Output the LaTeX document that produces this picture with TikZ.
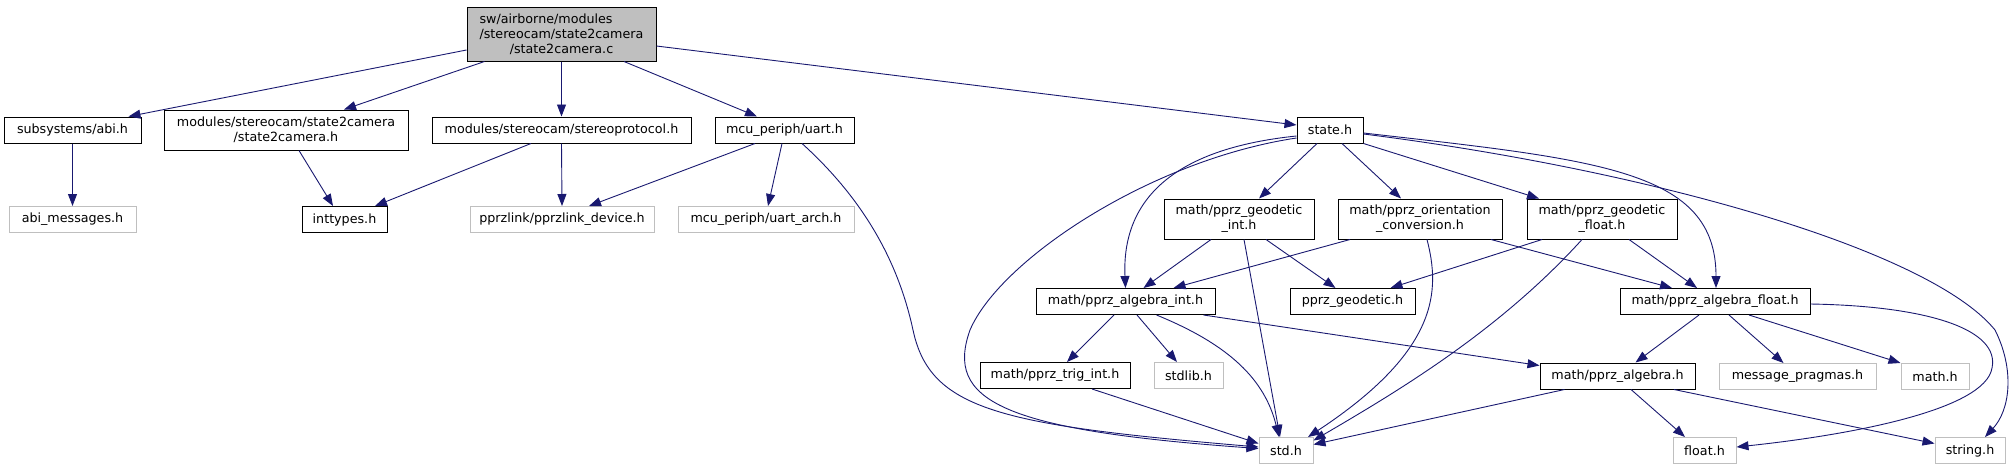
\documentclass[tikz,border=0pt]{standalone}
\usepackage{fontspec}
\newfontfamily\dvsans{DejaVu Sans}
\usetikzlibrary{arrows.meta}
\definecolor{edgeblue}{HTML}{191970}
\definecolor{grayline}{HTML}{BFBFBF}
\begin{document}
\begin{tikzpicture}[x=1pt,y=-1pt,
  box/.style={draw=black, line width=1pt, minimum height=26pt, inner sep=0pt,
    font=\dvsans\fontsize{12.7}{15}\selectfont, align=center, text=black},
  extbox/.style={box, draw=grayline},
  rootbox/.style={box, fill=grayline},
  dep/.style={draw=edgeblue, line width=0.9pt, -{Triangle[length=12pt,width=9pt]}},
]
\useasboundingbox (0,0) rectangle (2015,469);
% nodes
\node[rootbox, minimum width=189pt, minimum height=54pt] (root) at (561.5,34) {\rlap{sw/airborne/modules}\phantom{/stereocam/state2camera}\\/stereocam/state2camera\\/state2camera.c};
\node[box, minimum width=137pt] (abi) at (72.5,130) {subsystems/abi.h};
\node[box, minimum width=244pt, minimum height=40pt] (s2ch) at (286,130) {modules/stereocam/state2camera\\/state2camera.h};
\node[box, minimum width=259pt] (stereo) at (561.5,130) {modules/stereocam/stereoprotocol.h};
\node[box, minimum width=139pt] (uart) at (784.5,130) {mcu\_periph/uart.h};
\node[box, minimum width=66pt] (state) at (1330,130) {state.h};
\node[extbox, minimum width=127pt] (abimsg) at (72.5,219.5) {abi\_messages.h};
\node[box, minimum width=85pt] (inttypes) at (344.5,219.5) {inttypes.h};
\node[extbox, minimum width=184pt] (pprzlink) at (562,219.5) {pprzlink/pprzlink\_device.h};
\node[extbox, minimum width=176pt] (uartarch) at (766,219.5) {mcu\_periph/uart\_arch.h};
\node[box, minimum width=150pt, minimum height=40pt] (geoint) at (1239,219) {math/pprz\_geodetic\\\_int.h};
\node[box, minimum width=164pt, minimum height=40pt] (orient) at (1420,219) {math/pprz\_orientation\\\_conversion.h};
\node[box, minimum width=150pt, minimum height=40pt] (geofloat) at (1602,219) {math/pprz\_geodetic\\\_float.h};
\node[box, minimum width=179pt] (algint) at (1125.5,301.5) {math/pprz\_algebra\_int.h};
\node[box, minimum width=125pt] (geodetic) at (1352.5,301.5) {pprz\_geodetic.h};
\node[box, minimum width=190pt] (algfloat) at (1715,301.5) {math/pprz\_algebra\_float.h};
\node[box, minimum width=150pt] (trig) at (1055,375.5) {math/pprz\_trig\_int.h};
\node[extbox, minimum width=69pt] (stdlib) at (1188.5,375.5) {stdlib.h};
\node[box, minimum width=155pt] (algebra) at (1617.5,376) {math/pprz\_algebra.h};
\node[extbox, minimum width=157pt] (msgprag) at (1797.5,376.5) {message\_pragmas.h};
\node[extbox, minimum width=68pt] (mathh) at (1935,376.5) {math.h};
\node[extbox, minimum width=54pt] (std) at (1286,450.5) {std.h};
\node[extbox, minimum width=63pt] (floath) at (1704.5,450.5) {float.h};
\node[extbox, minimum width=70pt] (stringh) at (1970,450.5) {string.h};
% edges
\draw[dep] ([yshift=-16pt]root.west) -- ([xshift=56pt]abi.north);
\draw[dep] ([xshift=-77pt]root.south) -- ([xshift=58pt]s2ch.north);
\draw[dep] (root.south) -- (stereo.north);
\draw[dep] ([xshift=62.5pt]root.south) -- ([xshift=-27.5pt]uart.north);
\draw[dep] ([yshift=-12pt]root.east) -- ([yshift=5pt]state.west);
\draw[dep] (abi.south) -- (abimsg.north);
\draw[dep] ([xshift=13pt]s2ch.south) -- ([xshift=-11.5pt]inttypes.north);
\draw[dep] ([xshift=-30.5pt]stereo.south) -- ([xshift=30.5pt]inttypes.north);
\draw[dep] (stereo.south) -- (pprzlink.north);
\draw[dep] ([xshift=-29.5pt]uart.south) -- ([xshift=27pt]pprzlink.north);
\draw[dep] ([xshift=-2.5pt]uart.south) -- ([xshift=2pt]uartarch.north);
\draw[dep] ([xshift=17.5pt]uart.south) .. controls (870,205) and (900,270) .. (913,330) .. controls (930,410) and (1000,425) .. ([yshift=3.5pt]std.west);
\draw[dep] ([yshift=-8pt]state.west) .. controls (1150,160) and (1000,260) .. (970,330) .. controls (945,400) and (1000,430) .. ([yshift=2pt]std.west);
\draw[dep] ([yshift=-6pt]state.west) .. controls (1160,150) and (1122,210) .. (algint.north);
\draw[dep] ([xshift=-13pt]state.south) -- ([xshift=20pt]geoint.north);
\draw[dep] ([xshift=12pt]state.south) -- ([xshift=-19pt]orient.north);
\draw[dep] (state.south east) -- ([xshift=-63pt]geofloat.north);
\draw[dep] ([yshift=-3pt]state.east) .. controls (1600,160) and (1716,170) .. ([xshift=1pt]algfloat.north);
\draw[dep] ([yshift=-4pt]state.east) .. controls (1650,170) and (1930,250) .. (1995,330) .. controls (2015,370) and (2010,410) .. ([xshift=15pt]stringh.north);
\draw[dep] ([xshift=-28pt]geoint.south) -- ([xshift=18pt]algint.north);
\draw[dep] ([xshift=5pt]geoint.south) -- ([xshift=-6pt]std.north);
\draw[dep] ([xshift=27pt]geoint.south) -- ([xshift=-17pt]geodetic.north);
\draw[dep] ([xshift=-70pt]orient.south) -- ([xshift=48pt]algint.north);
\draw[dep] ([xshift=7pt]orient.south) .. controls (1440,290) and (1440,350) .. ([xshift=22pt]std.north);
\draw[dep] ([xshift=71pt]orient.south) -- ([xshift=-43pt]algfloat.north);
\draw[dep] ([xshift=-60pt]geofloat.south) -- ([xshift=38pt]geodetic.north);
\draw[dep] ([xshift=-20pt]geofloat.south) .. controls (1500,330) and (1400,390) .. ([yshift=10pt]std.east);
\draw[dep] ([xshift=27pt]geofloat.south) -- ([xshift=-18pt]algfloat.north);
\draw[dep] ([xshift=-11.5pt]algint.south) -- ([xshift=12pt]trig.north);
\draw[dep] ([xshift=11.5pt]algint.south) -- ([xshift=-11.5pt]stdlib.north);
\draw[dep] ([xshift=31pt]algint.south) .. controls (1230,345) and (1265,380) .. ([xshift=-7pt]std.north);
\draw[dep] ([xshift=78pt]algint.south) -- ([yshift=-3pt]algebra.north west);
\draw[dep] ([xshift=37pt]trig.south) -- ([yshift=7pt]std.west);
\draw[dep] ([xshift=-16pt]algfloat.south) -- ([xshift=18pt]algebra.north);
\draw[dep] ([xshift=14pt]algfloat.south) -- ([xshift=-14pt]msgprag.north);
\draw[dep] ([xshift=34pt]algfloat.south) -- (mathh.north west);
\draw[dep] ([yshift=-2.5pt]algfloat.east) .. controls (1930,306) and (2000,330) .. (1992,368) .. controls (1985,410) and (1850,435) .. ([yshift=3.5pt]floath.east);
\draw[dep] ([xshift=-53pt]algebra.south) -- ([yshift=6pt]std.east);
\draw[dep] ([xshift=13.5pt]algebra.south) -- ([xshift=-19.5pt]floath.north);
\draw[dep] ([xshift=56.5pt]algebra.south) -- ([yshift=7pt]stringh.west);
\end{tikzpicture}
\end{document}
